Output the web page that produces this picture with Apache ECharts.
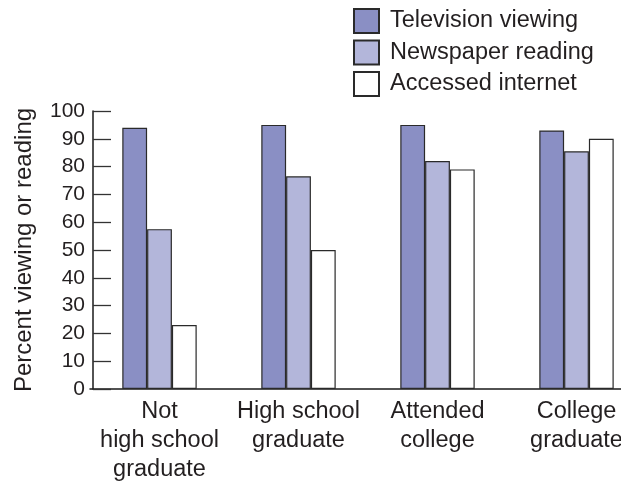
<!DOCTYPE html>
<html>
<head>
<meta charset="utf-8">
<script src="https://cdn.jsdelivr.net/npm/echarts@6/dist/echarts.min.js"></script>
<style>
html,body{margin:0;padding:0;background:#fff;}
#chart{width:621px;height:485px;}
</style>
</head>
<body>
<div id="chart"></div>
<script>
var categories = ['Not\nhigh school\ngraduate', 'High school\ngraduate', 'Attended\ncollege', 'College\ngraduate'];
var seriesNames = ['Television viewing', 'Newspaper reading', 'Accessed internet'];
var tvValues = [94, 95, 95, 93];
var newspaperValues = [57.5, 76.5, 82, 85.5];
var internetValues = [23, 50, 79, 90];
var yTicks = [0, 10, 20, 30, 40, 50, 60, 70, 80, 90, 100];

var FONT = "'Liberation Sans', Arial, Helvetica, sans-serif";
var TXT = '#231f20';
var colors = ['#8a8fc4', '#b3b6da', '#ffffff'];
var allValues = [tvValues, newspaperValues, internetValues];

var chart = echarts.init(document.getElementById('chart'), null, {renderer: 'canvas'});
var series = seriesNames.map(function (n, i) {
  return {
    name: n,
    type: 'bar',
    data: allValues[i],
    barWidth: 24.8,
    barGap: '0%',
    itemStyle: {color: colors[i], borderColor: '#2a2a2a', borderWidth: 1.2},
    emphasis: {disabled: true}
  };
});
chart.setOption({
  animation: false,
  backgroundColor: '#ffffff',
  textStyle: {fontFamily: FONT, color: TXT},
  legend: {
    orient: 'vertical',
    left: 348,
    top: 3,
    itemWidth: 25,
    itemHeight: 24,
    itemGap: 5.5,
    icon: 'rect',
    data: seriesNames,
    textStyle: {fontFamily: FONT, fontSize: 23.5, color: TXT, padding: [0, 0, 0, 6]}
  },
  grid: {left: 90, top: 111, width: 556, bottom: 96, containLabel: false, outerBoundsMode: 'none'},
  xAxis: {
    type: 'category',
    data: categories,
    axisLine: {lineStyle: {color: '#1a1a1a', width: 1.5}},
    axisTick: {show: false},
    axisLabel: {fontFamily: FONT, fontSize: 23.5, color: TXT, lineHeight: 29, margin: 8, interval: 0}
  },
  yAxis: {
    type: 'value',
    min: 0,
    max: 100,
    interval: 10,
    offset: -3,
    name: 'Percent viewing or reading',
    nameLocation: 'middle',
    nameRotate: 90,
    nameGap: 57,
    nameTextStyle: {fontFamily: FONT, fontSize: 24, color: TXT},
    axisLine: {show: true, lineStyle: {color: '#1a1a1a', width: 1.5}},
    axisTick: {show: true, inside: true, length: 18, lineStyle: {color: '#333', width: 1.3}},
    splitLine: {show: false},
    axisLabel: {
      fontFamily: FONT, fontSize: 21, color: TXT, margin: 8,
      formatter: function (v) { return yTicks.indexOf(v) >= 0 ? String(v) : ''; }
    }
  },
  series: series
});
</script>
</body>
</html>
